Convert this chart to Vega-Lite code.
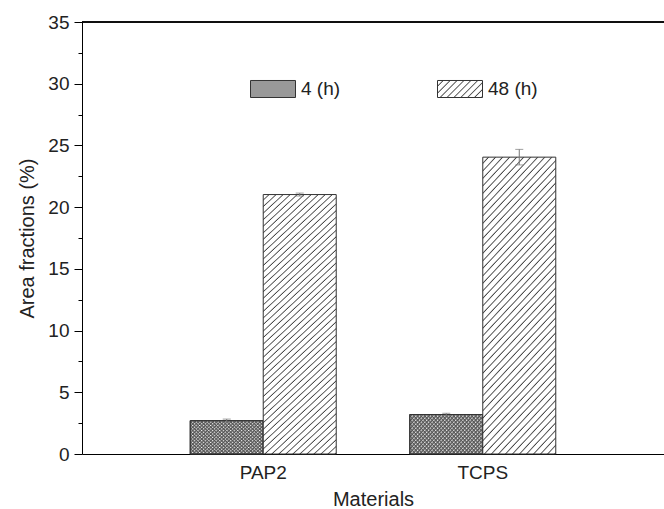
{
  "$schema": "https://vega.github.io/schema/vega-lite/v6.json",
  "width": 582,
  "height": 432,
  "autosize": {"type": "none"},
  "padding": {"left": 82, "top": 22, "right": 0, "bottom": 55},
  "background": "white",
  "config": {
    "view": {"stroke": null},
    "font": "Liberation Sans",
    "axis": {"grid": false, "domainColor": "#000", "tickColor": "#000", "labelColor": "#222", "titleColor": "#222", "titleFontWeight": "normal", "labelFontSize": 19, "titleFontSize": 20},
    "legend": {"symbolType": "M-1,-0.378L1,-0.378L1,0.378L-1,0.378Z", "symbolSize": 2025, "symbolStrokeWidth": 1, "labelFontSize": 19, "labelColor": "#222", "labelOffset": 5}
  },
  "data": {
    "values": [
      {"material": "PAP2", "time": "4 (h)", "value": 2.7, "lo": 2.57, "hi": 2.83},
      {"material": "PAP2", "time": "48 (h)", "value": 21.02, "lo": 20.9, "hi": 21.14},
      {"material": "TCPS", "time": "4 (h)", "value": 3.2, "lo": 3.1, "hi": 3.3},
      {"material": "TCPS", "time": "48 (h)", "value": 24.05, "lo": 23.42, "hi": 24.68}
    ]
  },
  "encoding": {
    "x": {
      "field": "material", "type": "nominal",
      "scale": {"paddingInner": 0.335, "paddingOuter": 0.493},
      "axis": {"title": "Materials", "labelAngle": 0, "ticks": false, "labelPadding": 9, "titlePadding": 7, "domainColor": "#000"}
    },
    "xOffset": {"field": "time", "type": "nominal", "scale": {"paddingInner": 0, "paddingOuter": 0}},
    "y": {
      "field": "value", "type": "quantitative",
      "scale": {"domain": [0, 35], "nice": false},
      "axis": {
        "title": "Area fractions (%)",
        "values": [0, 2.5, 5, 7.5, 10, 12.5, 15, 17.5, 20, 22.5, 25, 27.5, 30, 32.5, 35],
        "labelExpr": "datum.value % 5 === 0 ? datum.label : ''",
        "tickSize": {"condition": {"test": "datum.value % 5 === 0", "value": 8}, "value": 4},
        "labelPadding": 5,
        "titlePadding": 10
      }
    }
  },
  "layer": [
    {
      "mark": {"type": "rule", "color": "#000", "strokeWidth": 1},
      "encoding": {"x": null, "xOffset": null, "y": {"datum": 35}}
    },
    {
      "transform": [{"filter": "false"}],
      "mark": {"type": "bar", "stroke": "#333", "strokeWidth": 1},
      "encoding": {
        "fill": {
          "field": "time", "type": "nominal",
          "scale": {"domain": ["4 (h)"], "range": ["#999999"]},
          "legend": {"title": null, "orient": "none", "direction": "horizontal", "legendX": 168, "legendY": 44}
        }
      }
    },
    {
      "transform": [{"filter": "false"}],
      "mark": {
        "type": "bar", "stroke": "#333", "strokeWidth": 1,
        "fill": {"gradient": "linear", "x1": 0, "y1": 0, "x2": 1.2057, "y2": 0.4555, "stops": [
          {"offset": 0, "color": "#fff"}, {"offset": 0.072, "color": "#fff"}, {"offset": 0.094, "color": "#444"},
          {"offset": 0.111, "color": "#fff"}, {"offset": 0.183, "color": "#fff"}, {"offset": 0.206, "color": "#444"},
          {"offset": 0.222, "color": "#fff"}, {"offset": 0.294, "color": "#fff"}, {"offset": 0.317, "color": "#444"},
          {"offset": 0.333, "color": "#fff"}, {"offset": 0.406, "color": "#fff"}, {"offset": 0.428, "color": "#444"},
          {"offset": 0.444, "color": "#fff"}, {"offset": 0.517, "color": "#fff"}, {"offset": 0.539, "color": "#444"},
          {"offset": 0.556, "color": "#fff"}, {"offset": 0.628, "color": "#fff"}, {"offset": 0.65, "color": "#444"},
          {"offset": 0.667, "color": "#fff"}, {"offset": 0.739, "color": "#fff"}, {"offset": 0.761, "color": "#444"},
          {"offset": 0.778, "color": "#fff"}, {"offset": 0.85, "color": "#fff"}, {"offset": 0.872, "color": "#444"},
          {"offset": 0.889, "color": "#fff"}, {"offset": 0.961, "color": "#fff"}, {"offset": 0.983, "color": "#444"},
          {"offset": 1, "color": "#fff"}
        ]}
      },
      "encoding": {
        "opacity": {
          "field": "time", "type": "ordinal",
          "scale": {"domain": ["48 (h)"], "range": [1, 1]},
          "legend": {"title": null, "orient": "none", "direction": "horizontal", "legendX": 355, "legendY": 44}
        }
      }
    },
    {
      "transform": [{"filter": "datum.time === '4 (h)'"}],
      "mark": {
        "type": "bar", "stroke": "#333", "strokeWidth": 1,
        "fill": {"gradient": "linear", "x1": 0, "y1": 0, "x2": 1.2016, "y2": 0.5885, "stops": [
          {"offset": 0, "color": "rgba(85,85,85,0)"}, {"offset": 0.023, "color": "#555"},
          {"offset": 0.033, "color": "rgba(85,85,85,0)"}, {"offset": 0.057, "color": "#555"},
          {"offset": 0.067, "color": "rgba(85,85,85,0)"}, {"offset": 0.09, "color": "#555"},
          {"offset": 0.1, "color": "rgba(85,85,85,0)"}, {"offset": 0.123, "color": "#555"},
          {"offset": 0.133, "color": "rgba(85,85,85,0)"}, {"offset": 0.157, "color": "#555"},
          {"offset": 0.167, "color": "rgba(85,85,85,0)"}, {"offset": 0.19, "color": "#555"},
          {"offset": 0.2, "color": "rgba(85,85,85,0)"}, {"offset": 0.223, "color": "#555"},
          {"offset": 0.233, "color": "rgba(85,85,85,0)"}, {"offset": 0.257, "color": "#555"},
          {"offset": 0.267, "color": "rgba(85,85,85,0)"}, {"offset": 0.29, "color": "#555"},
          {"offset": 0.3, "color": "rgba(85,85,85,0)"}, {"offset": 0.323, "color": "#555"},
          {"offset": 0.333, "color": "rgba(85,85,85,0)"}, {"offset": 0.357, "color": "#555"},
          {"offset": 0.367, "color": "rgba(85,85,85,0)"}, {"offset": 0.39, "color": "#555"},
          {"offset": 0.4, "color": "rgba(85,85,85,0)"}, {"offset": 0.423, "color": "#555"},
          {"offset": 0.433, "color": "rgba(85,85,85,0)"}, {"offset": 0.457, "color": "#555"},
          {"offset": 0.467, "color": "rgba(85,85,85,0)"}, {"offset": 0.49, "color": "#555"},
          {"offset": 0.5, "color": "rgba(85,85,85,0)"}, {"offset": 0.523, "color": "#555"},
          {"offset": 0.533, "color": "rgba(85,85,85,0)"}, {"offset": 0.557, "color": "#555"},
          {"offset": 0.567, "color": "rgba(85,85,85,0)"}, {"offset": 0.59, "color": "#555"},
          {"offset": 0.6, "color": "rgba(85,85,85,0)"}, {"offset": 0.623, "color": "#555"},
          {"offset": 0.633, "color": "rgba(85,85,85,0)"}, {"offset": 0.657, "color": "#555"},
          {"offset": 0.667, "color": "rgba(85,85,85,0)"}, {"offset": 0.69, "color": "#555"},
          {"offset": 0.7, "color": "rgba(85,85,85,0)"}, {"offset": 0.723, "color": "#555"},
          {"offset": 0.733, "color": "rgba(85,85,85,0)"}, {"offset": 0.757, "color": "#555"},
          {"offset": 0.767, "color": "rgba(85,85,85,0)"}, {"offset": 0.79, "color": "#555"},
          {"offset": 0.8, "color": "rgba(85,85,85,0)"}, {"offset": 0.823, "color": "#555"},
          {"offset": 0.833, "color": "rgba(85,85,85,0)"}, {"offset": 0.857, "color": "#555"},
          {"offset": 0.867, "color": "rgba(85,85,85,0)"}, {"offset": 0.89, "color": "#555"},
          {"offset": 0.9, "color": "rgba(85,85,85,0)"}, {"offset": 0.923, "color": "#555"},
          {"offset": 0.933, "color": "rgba(85,85,85,0)"}, {"offset": 0.957, "color": "#555"},
          {"offset": 0.967, "color": "rgba(85,85,85,0)"}, {"offset": 0.99, "color": "#555"},
          {"offset": 1, "color": "rgba(85,85,85,0)"}
        ]}
      }
    },
    {
      "transform": [{"filter": "datum.time === '4 (h)'"}],
      "mark": {
        "type": "bar", "stroke": "#333", "strokeWidth": 1,
        "fill": {"gradient": "linear", "x1": 0, "y1": 1, "x2": 1.2016, "y2": 0.4115, "stops": [
          {"offset": 0, "color": "rgba(85,85,85,0)"}, {"offset": 0.023, "color": "#555"},
          {"offset": 0.033, "color": "rgba(85,85,85,0)"}, {"offset": 0.057, "color": "#555"},
          {"offset": 0.067, "color": "rgba(85,85,85,0)"}, {"offset": 0.09, "color": "#555"},
          {"offset": 0.1, "color": "rgba(85,85,85,0)"}, {"offset": 0.123, "color": "#555"},
          {"offset": 0.133, "color": "rgba(85,85,85,0)"}, {"offset": 0.157, "color": "#555"},
          {"offset": 0.167, "color": "rgba(85,85,85,0)"}, {"offset": 0.19, "color": "#555"},
          {"offset": 0.2, "color": "rgba(85,85,85,0)"}, {"offset": 0.223, "color": "#555"},
          {"offset": 0.233, "color": "rgba(85,85,85,0)"}, {"offset": 0.257, "color": "#555"},
          {"offset": 0.267, "color": "rgba(85,85,85,0)"}, {"offset": 0.29, "color": "#555"},
          {"offset": 0.3, "color": "rgba(85,85,85,0)"}, {"offset": 0.323, "color": "#555"},
          {"offset": 0.333, "color": "rgba(85,85,85,0)"}, {"offset": 0.357, "color": "#555"},
          {"offset": 0.367, "color": "rgba(85,85,85,0)"}, {"offset": 0.39, "color": "#555"},
          {"offset": 0.4, "color": "rgba(85,85,85,0)"}, {"offset": 0.423, "color": "#555"},
          {"offset": 0.433, "color": "rgba(85,85,85,0)"}, {"offset": 0.457, "color": "#555"},
          {"offset": 0.467, "color": "rgba(85,85,85,0)"}, {"offset": 0.49, "color": "#555"},
          {"offset": 0.5, "color": "rgba(85,85,85,0)"}, {"offset": 0.523, "color": "#555"},
          {"offset": 0.533, "color": "rgba(85,85,85,0)"}, {"offset": 0.557, "color": "#555"},
          {"offset": 0.567, "color": "rgba(85,85,85,0)"}, {"offset": 0.59, "color": "#555"},
          {"offset": 0.6, "color": "rgba(85,85,85,0)"}, {"offset": 0.623, "color": "#555"},
          {"offset": 0.633, "color": "rgba(85,85,85,0)"}, {"offset": 0.657, "color": "#555"},
          {"offset": 0.667, "color": "rgba(85,85,85,0)"}, {"offset": 0.69, "color": "#555"},
          {"offset": 0.7, "color": "rgba(85,85,85,0)"}, {"offset": 0.723, "color": "#555"},
          {"offset": 0.733, "color": "rgba(85,85,85,0)"}, {"offset": 0.757, "color": "#555"},
          {"offset": 0.767, "color": "rgba(85,85,85,0)"}, {"offset": 0.79, "color": "#555"},
          {"offset": 0.8, "color": "rgba(85,85,85,0)"}, {"offset": 0.823, "color": "#555"},
          {"offset": 0.833, "color": "rgba(85,85,85,0)"}, {"offset": 0.857, "color": "#555"},
          {"offset": 0.867, "color": "rgba(85,85,85,0)"}, {"offset": 0.89, "color": "#555"},
          {"offset": 0.9, "color": "rgba(85,85,85,0)"}, {"offset": 0.923, "color": "#555"},
          {"offset": 0.933, "color": "rgba(85,85,85,0)"}, {"offset": 0.957, "color": "#555"},
          {"offset": 0.967, "color": "rgba(85,85,85,0)"}, {"offset": 0.99, "color": "#555"},
          {"offset": 1, "color": "rgba(85,85,85,0)"}
        ]}
      }
    },
    {
      "transform": [{"filter": "datum.time === '48 (h)'"}],
      "mark": {
        "type": "bar", "stroke": "#333", "strokeWidth": 1,
        "fill": {"gradient": "linear", "x1": 0, "y1": 0, "x2": 0.31, "y2": 1.181, "stops": [
          {"offset": 0, "color": "#fff"}, {"offset": 0.013, "color": "#fff"}, {"offset": 0.017, "color": "#444"},
          {"offset": 0.02, "color": "#fff"}, {"offset": 0.033, "color": "#fff"}, {"offset": 0.037, "color": "#444"},
          {"offset": 0.04, "color": "#fff"}, {"offset": 0.053, "color": "#fff"}, {"offset": 0.057, "color": "#444"},
          {"offset": 0.06, "color": "#fff"}, {"offset": 0.073, "color": "#fff"}, {"offset": 0.077, "color": "#444"},
          {"offset": 0.08, "color": "#fff"}, {"offset": 0.093, "color": "#fff"}, {"offset": 0.097, "color": "#444"},
          {"offset": 0.1, "color": "#fff"}, {"offset": 0.113, "color": "#fff"}, {"offset": 0.117, "color": "#444"},
          {"offset": 0.12, "color": "#fff"}, {"offset": 0.133, "color": "#fff"}, {"offset": 0.137, "color": "#444"},
          {"offset": 0.14, "color": "#fff"}, {"offset": 0.153, "color": "#fff"}, {"offset": 0.157, "color": "#444"},
          {"offset": 0.16, "color": "#fff"}, {"offset": 0.173, "color": "#fff"}, {"offset": 0.177, "color": "#444"},
          {"offset": 0.18, "color": "#fff"}, {"offset": 0.193, "color": "#fff"}, {"offset": 0.197, "color": "#444"},
          {"offset": 0.2, "color": "#fff"}, {"offset": 0.213, "color": "#fff"}, {"offset": 0.217, "color": "#444"},
          {"offset": 0.22, "color": "#fff"}, {"offset": 0.233, "color": "#fff"}, {"offset": 0.237, "color": "#444"},
          {"offset": 0.24, "color": "#fff"}, {"offset": 0.253, "color": "#fff"}, {"offset": 0.257, "color": "#444"},
          {"offset": 0.26, "color": "#fff"}, {"offset": 0.273, "color": "#fff"}, {"offset": 0.277, "color": "#444"},
          {"offset": 0.28, "color": "#fff"}, {"offset": 0.293, "color": "#fff"}, {"offset": 0.297, "color": "#444"},
          {"offset": 0.3, "color": "#fff"}, {"offset": 0.313, "color": "#fff"}, {"offset": 0.317, "color": "#444"},
          {"offset": 0.32, "color": "#fff"}, {"offset": 0.333, "color": "#fff"}, {"offset": 0.337, "color": "#444"},
          {"offset": 0.34, "color": "#fff"}, {"offset": 0.353, "color": "#fff"}, {"offset": 0.357, "color": "#444"},
          {"offset": 0.36, "color": "#fff"}, {"offset": 0.373, "color": "#fff"}, {"offset": 0.377, "color": "#444"},
          {"offset": 0.38, "color": "#fff"}, {"offset": 0.393, "color": "#fff"}, {"offset": 0.397, "color": "#444"},
          {"offset": 0.4, "color": "#fff"}, {"offset": 0.413, "color": "#fff"}, {"offset": 0.417, "color": "#444"},
          {"offset": 0.42, "color": "#fff"}, {"offset": 0.433, "color": "#fff"}, {"offset": 0.437, "color": "#444"},
          {"offset": 0.44, "color": "#fff"}, {"offset": 0.453, "color": "#fff"}, {"offset": 0.457, "color": "#444"},
          {"offset": 0.46, "color": "#fff"}, {"offset": 0.473, "color": "#fff"}, {"offset": 0.477, "color": "#444"},
          {"offset": 0.48, "color": "#fff"}, {"offset": 0.493, "color": "#fff"}, {"offset": 0.497, "color": "#444"},
          {"offset": 0.5, "color": "#fff"}, {"offset": 0.513, "color": "#fff"}, {"offset": 0.517, "color": "#444"},
          {"offset": 0.52, "color": "#fff"}, {"offset": 0.533, "color": "#fff"}, {"offset": 0.537, "color": "#444"},
          {"offset": 0.54, "color": "#fff"}, {"offset": 0.553, "color": "#fff"}, {"offset": 0.557, "color": "#444"},
          {"offset": 0.56, "color": "#fff"}, {"offset": 0.573, "color": "#fff"}, {"offset": 0.577, "color": "#444"},
          {"offset": 0.58, "color": "#fff"}, {"offset": 0.593, "color": "#fff"}, {"offset": 0.597, "color": "#444"},
          {"offset": 0.6, "color": "#fff"}, {"offset": 0.613, "color": "#fff"}, {"offset": 0.617, "color": "#444"},
          {"offset": 0.62, "color": "#fff"}, {"offset": 0.633, "color": "#fff"}, {"offset": 0.637, "color": "#444"},
          {"offset": 0.64, "color": "#fff"}, {"offset": 0.653, "color": "#fff"}, {"offset": 0.657, "color": "#444"},
          {"offset": 0.66, "color": "#fff"}, {"offset": 0.673, "color": "#fff"}, {"offset": 0.677, "color": "#444"},
          {"offset": 0.68, "color": "#fff"}, {"offset": 0.693, "color": "#fff"}, {"offset": 0.697, "color": "#444"},
          {"offset": 0.7, "color": "#fff"}, {"offset": 0.713, "color": "#fff"}, {"offset": 0.717, "color": "#444"},
          {"offset": 0.72, "color": "#fff"}, {"offset": 0.733, "color": "#fff"}, {"offset": 0.737, "color": "#444"},
          {"offset": 0.74, "color": "#fff"}, {"offset": 0.753, "color": "#fff"}, {"offset": 0.757, "color": "#444"},
          {"offset": 0.76, "color": "#fff"}, {"offset": 0.773, "color": "#fff"}, {"offset": 0.777, "color": "#444"},
          {"offset": 0.78, "color": "#fff"}, {"offset": 0.793, "color": "#fff"}, {"offset": 0.797, "color": "#444"},
          {"offset": 0.8, "color": "#fff"}, {"offset": 0.813, "color": "#fff"}, {"offset": 0.817, "color": "#444"},
          {"offset": 0.82, "color": "#fff"}, {"offset": 0.833, "color": "#fff"}, {"offset": 0.837, "color": "#444"},
          {"offset": 0.84, "color": "#fff"}, {"offset": 0.853, "color": "#fff"}, {"offset": 0.857, "color": "#444"},
          {"offset": 0.86, "color": "#fff"}, {"offset": 0.873, "color": "#fff"}, {"offset": 0.877, "color": "#444"},
          {"offset": 0.88, "color": "#fff"}, {"offset": 0.893, "color": "#fff"}, {"offset": 0.897, "color": "#444"},
          {"offset": 0.9, "color": "#fff"}, {"offset": 0.913, "color": "#fff"}, {"offset": 0.917, "color": "#444"},
          {"offset": 0.92, "color": "#fff"}, {"offset": 0.933, "color": "#fff"}, {"offset": 0.937, "color": "#444"},
          {"offset": 0.94, "color": "#fff"}, {"offset": 0.953, "color": "#fff"}, {"offset": 0.957, "color": "#444"},
          {"offset": 0.96, "color": "#fff"}, {"offset": 0.973, "color": "#fff"}, {"offset": 0.977, "color": "#444"},
          {"offset": 0.98, "color": "#fff"}, {"offset": 0.993, "color": "#fff"}, {"offset": 0.997, "color": "#444"},
          {"offset": 1, "color": "#fff"}
        ]}
      }
    },
    {
      "mark": {"type": "rule", "color": "#777", "strokeWidth": 1},
      "encoding": {"y": {"field": "lo", "type": "quantitative"}, "y2": {"field": "hi"}}
    },
    {
      "mark": {"type": "tick", "color": "#777", "size": 8, "thickness": 1, "orient": "horizontal"},
      "encoding": {"y": {"field": "lo", "type": "quantitative"}}
    },
    {
      "mark": {"type": "tick", "color": "#777", "size": 8, "thickness": 1, "orient": "horizontal"},
      "encoding": {"y": {"field": "hi", "type": "quantitative"}}
    }
  ]
}
